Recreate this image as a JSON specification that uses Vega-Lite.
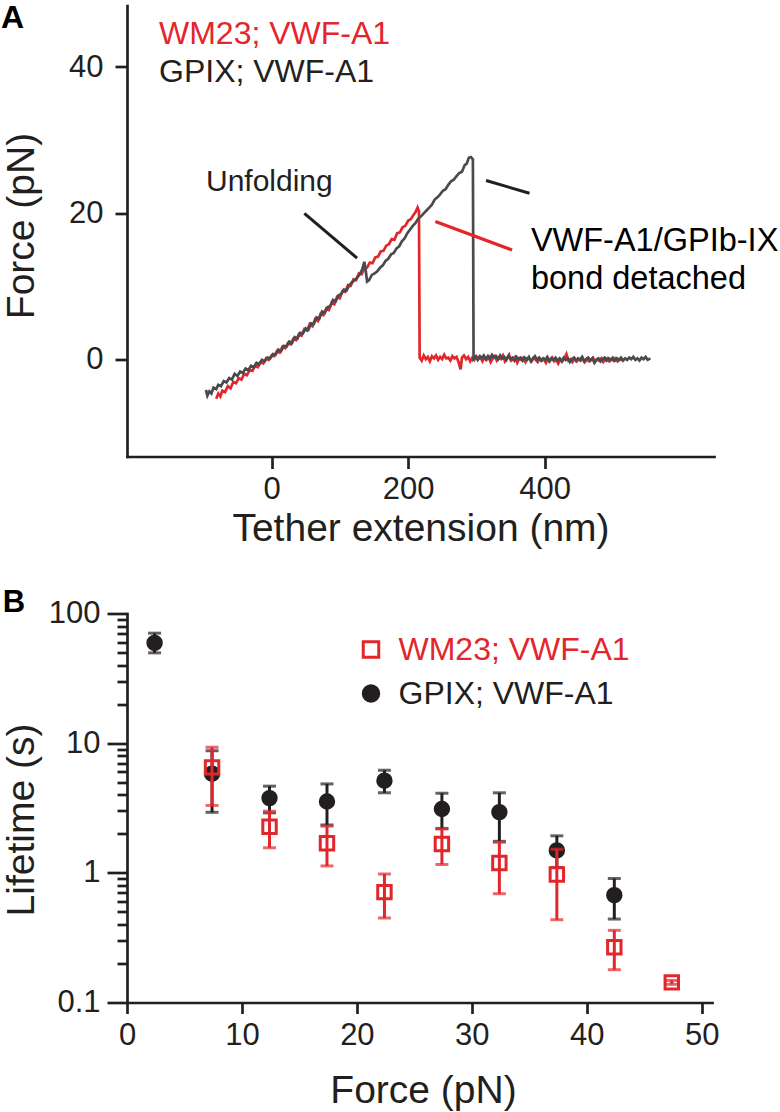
{
  "$schema": "https://vega.github.io/schema/vega-lite/v6.json",
  "background": "white",
  "padding": {"left": 0, "top": 1.5, "right": 0, "bottom": 0},
  "spacing": 38,
  "resolve": {
    "scale": {"color": "independent", "shape": "independent", "fill": "independent", "stroke": "independent"},
    "legend": {"color": "independent", "shape": "independent", "fill": "independent", "stroke": "independent"}
  },
  "config": {
    "font": "Liberation Sans",
    "view": {"stroke": null},
    "axis": {"grid": false, "domainColor": "#231f20", "tickColor": "#231f20", "labelColor": "#231f20", "titleColor": "#231f20", "domainWidth": 2.7, "tickWidth": 2.7, "domainCap": "square", "labelFont": "Liberation Sans", "titleFont": "Liberation Sans", "labelFontSize": 31, "titleFontSize": 39, "titleFontWeight": "normal", "labelFlush": false, "labelOverlap": false},
    "legend": {"labelFont": "Liberation Sans"}
  },
  "datasets": {
    "trace": [
      {"s":"WM23; VWF-A1","x":-81,"y":-5.3},{"s":"WM23; VWF-A1","x":-78,"y":-4.6},{"s":"WM23; VWF-A1","x":-75,"y":-5.0},{"s":"WM23; VWF-A1","x":-72,"y":-4.2},{"s":"WM23; VWF-A1","x":-68,"y":-4.4},{"s":"WM23; VWF-A1","x":-64,"y":-3.6},{"s":"WM23; VWF-A1","x":-60,"y":-3.9},{"s":"WM23; VWF-A1","x":-56,"y":-3.0},{"s":"WM23; VWF-A1","x":-52,"y":-3.2},{"s":"WM23; VWF-A1","x":-48,"y":-2.5},{"s":"WM23; VWF-A1","x":-44,"y":-2.7},{"s":"WM23; VWF-A1","x":-40,"y":-1.9},{"s":"WM23; VWF-A1","x":-36,"y":-2.1},{"s":"WM23; VWF-A1","x":-32,"y":-1.4},{"s":"WM23; VWF-A1","x":-28,"y":-1.5},{"s":"WM23; VWF-A1","x":-24,"y":-0.8},{"s":"WM23; VWF-A1","x":-20,"y":-1.0},{"s":"WM23; VWF-A1","x":-16,"y":-0.3},{"s":"WM23; VWF-A1","x":-12,"y":-0.5},{"s":"WM23; VWF-A1","x":-8,"y":0.2},{"s":"WM23; VWF-A1","x":-4,"y":0.0},{"s":"WM23; VWF-A1","x":0,"y":0.6},{"s":"WM23; VWF-A1","x":4,"y":0.5},{"s":"WM23; VWF-A1","x":8,"y":1.2},{"s":"WM23; VWF-A1","x":12,"y":1.0},{"s":"WM23; VWF-A1","x":16,"y":1.8},{"s":"WM23; VWF-A1","x":20,"y":1.6},{"s":"WM23; VWF-A1","x":24,"y":2.3},{"s":"WM23; VWF-A1","x":28,"y":2.1},{"s":"WM23; VWF-A1","x":32,"y":2.9},{"s":"WM23; VWF-A1","x":36,"y":2.7},{"s":"WM23; VWF-A1","x":40,"y":3.5},{"s":"WM23; VWF-A1","x":44,"y":3.3},{"s":"WM23; VWF-A1","x":48,"y":4.2},{"s":"WM23; VWF-A1","x":52,"y":4.0},{"s":"WM23; VWF-A1","x":56,"y":4.9},{"s":"WM23; VWF-A1","x":60,"y":4.6},{"s":"WM23; VWF-A1","x":64,"y":5.6},{"s":"WM23; VWF-A1","x":68,"y":5.3},{"s":"WM23; VWF-A1","x":72,"y":6.3},{"s":"WM23; VWF-A1","x":76,"y":6.1},{"s":"WM23; VWF-A1","x":80,"y":7.0},{"s":"WM23; VWF-A1","x":84,"y":6.8},{"s":"WM23; VWF-A1","x":88,"y":7.8},{"s":"WM23; VWF-A1","x":92,"y":7.6},{"s":"WM23; VWF-A1","x":96,"y":8.6},{"s":"WM23; VWF-A1","x":100,"y":8.4},{"s":"WM23; VWF-A1","x":104,"y":9.4},{"s":"WM23; VWF-A1","x":108,"y":9.3},{"s":"WM23; VWF-A1","x":112,"y":10.2},{"s":"WM23; VWF-A1","x":116,"y":10.1},{"s":"WM23; VWF-A1","x":120,"y":11.0},{"s":"WM23; VWF-A1","x":124,"y":10.9},{"s":"WM23; VWF-A1","x":128,"y":11.8},{"s":"WM23; VWF-A1","x":132,"y":11.7},{"s":"WM23; VWF-A1","x":136,"y":12.5},{"s":"WM23; VWF-A1","x":140,"y":12.6},{"s":"WM23; VWF-A1","x":144,"y":13.3},{"s":"WM23; VWF-A1","x":148,"y":13.2},{"s":"WM23; VWF-A1","x":152,"y":14.0},{"s":"WM23; VWF-A1","x":156,"y":14.1},{"s":"WM23; VWF-A1","x":160,"y":14.8},{"s":"WM23; VWF-A1","x":164,"y":14.9},{"s":"WM23; VWF-A1","x":168,"y":15.6},{"s":"WM23; VWF-A1","x":172,"y":15.8},{"s":"WM23; VWF-A1","x":176,"y":16.5},{"s":"WM23; VWF-A1","x":180,"y":16.4},{"s":"WM23; VWF-A1","x":184,"y":17.3},{"s":"WM23; VWF-A1","x":188,"y":17.4},{"s":"WM23; VWF-A1","x":192,"y":18.1},{"s":"WM23; VWF-A1","x":196,"y":18.3},{"s":"WM23; VWF-A1","x":200,"y":19.0},{"s":"WM23; VWF-A1","x":204,"y":19.2},{"s":"WM23; VWF-A1","x":208,"y":19.8},{"s":"WM23; VWF-A1","x":211,"y":20.2},{"s":"WM23; VWF-A1","x":214,"y":20.8},{"s":"WM23; VWF-A1","x":216,"y":20.3},{"s":"WM23; VWF-A1","x":217,"y":0.3},{"s":"WM23; VWF-A1","x":220,"y":-0.1},{"s":"WM23; VWF-A1","x":223,"y":0.6},{"s":"WM23; VWF-A1","x":226,"y":0.1},{"s":"WM23; VWF-A1","x":229,"y":0.4},{"s":"WM23; VWF-A1","x":232,"y":-0.2},{"s":"WM23; VWF-A1","x":235,"y":0.5},{"s":"WM23; VWF-A1","x":238,"y":0.2},{"s":"WM23; VWF-A1","x":241,"y":0.6},{"s":"WM23; VWF-A1","x":244,"y":0.0},{"s":"WM23; VWF-A1","x":247,"y":0.4},{"s":"WM23; VWF-A1","x":250,"y":0.1},{"s":"WM23; VWF-A1","x":253,"y":0.7},{"s":"WM23; VWF-A1","x":256,"y":0.2},{"s":"WM23; VWF-A1","x":259,"y":0.3},{"s":"WM23; VWF-A1","x":262,"y":-0.1},{"s":"WM23; VWF-A1","x":265,"y":0.5},{"s":"WM23; VWF-A1","x":268,"y":0.2},{"s":"WM23; VWF-A1","x":271,"y":0.4},{"s":"WM23; VWF-A1","x":274,"y":-0.3},{"s":"WM23; VWF-A1","x":277,"y":-1.3},{"s":"WM23; VWF-A1","x":279,"y":0.3},{"s":"WM23; VWF-A1","x":282,"y":0.6},{"s":"WM23; VWF-A1","x":285,"y":0.1},{"s":"WM23; VWF-A1","x":288,"y":0.4},{"s":"WM23; VWF-A1","x":291,"y":-0.2},{"s":"WM23; VWF-A1","x":294,"y":0.3},{"s":"WM23; VWF-A1","x":297,"y":0.0},{"s":"WM23; VWF-A1","x":300,"y":0.5},{"s":"WM23; VWF-A1","x":303,"y":0.1},{"s":"WM23; VWF-A1","x":306,"y":0.4},{"s":"WM23; VWF-A1","x":309,"y":-0.2},{"s":"WM23; VWF-A1","x":312,"y":0.3},{"s":"WM23; VWF-A1","x":315,"y":0.0},{"s":"WM23; VWF-A1","x":318,"y":0.4},{"s":"WM23; VWF-A1","x":321,"y":-0.3},{"s":"WM23; VWF-A1","x":324,"y":0.2},{"s":"WM23; VWF-A1","x":327,"y":0.5},{"s":"WM23; VWF-A1","x":330,"y":-0.1},{"s":"WM23; VWF-A1","x":333,"y":0.3},{"s":"WM23; VWF-A1","x":336,"y":0.1},{"s":"WM23; VWF-A1","x":339,"y":0.6},{"s":"WM23; VWF-A1","x":342,"y":-0.2},{"s":"WM23; VWF-A1","x":345,"y":0.2},{"s":"WM23; VWF-A1","x":348,"y":0.7},{"s":"WM23; VWF-A1","x":351,"y":-0.1},{"s":"WM23; VWF-A1","x":354,"y":0.1},{"s":"WM23; VWF-A1","x":357,"y":0.4},{"s":"WM23; VWF-A1","x":360,"y":-0.4},{"s":"WM23; VWF-A1","x":363,"y":0.2},{"s":"WM23; VWF-A1","x":366,"y":0.0},{"s":"WM23; VWF-A1","x":369,"y":0.3},{"s":"WM23; VWF-A1","x":372,"y":-0.3},{"s":"WM23; VWF-A1","x":375,"y":0.2},{"s":"WM23; VWF-A1","x":378,"y":0.1},{"s":"WM23; VWF-A1","x":381,"y":-0.2},{"s":"WM23; VWF-A1","x":384,"y":0.3},{"s":"WM23; VWF-A1","x":387,"y":0.0},{"s":"WM23; VWF-A1","x":390,"y":-0.3},{"s":"WM23; VWF-A1","x":393,"y":0.2},{"s":"WM23; VWF-A1","x":396,"y":-0.1},{"s":"WM23; VWF-A1","x":399,"y":0.1},{"s":"WM23; VWF-A1","x":402,"y":-0.4},{"s":"WM23; VWF-A1","x":405,"y":0.2},{"s":"WM23; VWF-A1","x":408,"y":-0.1},{"s":"WM23; VWF-A1","x":411,"y":0.3},{"s":"WM23; VWF-A1","x":414,"y":-0.2},{"s":"WM23; VWF-A1","x":417,"y":0.0},{"s":"WM23; VWF-A1","x":420,"y":-0.5},{"s":"WM23; VWF-A1","x":423,"y":0.1},{"s":"WM23; VWF-A1","x":426,"y":-0.2},{"s":"WM23; VWF-A1","x":429,"y":0.2},{"s":"WM23; VWF-A1","x":432,"y":0.8},{"s":"WM23; VWF-A1","x":435,"y":-0.1},{"s":"WM23; VWF-A1","x":438,"y":0.1},{"s":"WM23; VWF-A1","x":441,"y":-0.3},{"s":"WM23; VWF-A1","x":444,"y":0.2},{"s":"WM23; VWF-A1","x":447,"y":-0.2},{"s":"WM23; VWF-A1","x":450,"y":0.1},{"s":"WM23; VWF-A1","x":453,"y":-0.1},{"s":"WM23; VWF-A1","x":456,"y":0.2},{"s":"WM23; VWF-A1","x":459,"y":-0.3},{"s":"WM23; VWF-A1","x":462,"y":0.1},{"s":"WM23; VWF-A1","x":465,"y":-0.2},{"s":"WM23; VWF-A1","x":468,"y":0.0},{"s":"WM23; VWF-A1","x":471,"y":0.3},{"s":"WM23; VWF-A1","x":474,"y":-0.2},{"s":"WM23; VWF-A1","x":477,"y":0.1},{"s":"WM23; VWF-A1","x":480,"y":-0.1},{"s":"WM23; VWF-A1","x":483,"y":0.2},{"s":"WM23; VWF-A1","x":486,"y":-0.3},{"s":"WM23; VWF-A1","x":489,"y":0.0},{"s":"WM23; VWF-A1","x":492,"y":0.2},{"s":"WM23; VWF-A1","x":495,"y":-0.2},{"s":"WM23; VWF-A1","x":498,"y":0.1},{"s":"WM23; VWF-A1","x":501,"y":-0.1},{"s":"WM23; VWF-A1","x":504,"y":0.2},{"s":"WM23; VWF-A1","x":507,"y":-0.2},{"s":"WM23; VWF-A1","x":510,"y":0.1},{"s":"WM23; VWF-A1","x":513,"y":0.0},{"s":"WM23; VWF-A1","x":515,"y":0.2},
      {"s":"GPIX; VWF-A1","x":-96,"y":-4.1},{"s":"GPIX; VWF-A1","x":-94,"y":-4.9},{"s":"GPIX; VWF-A1","x":-91,"y":-4.3},{"s":"GPIX; VWF-A1","x":-88,"y":-4.6},{"s":"GPIX; VWF-A1","x":-85,"y":-3.8},{"s":"GPIX; VWF-A1","x":-81,"y":-4.0},{"s":"GPIX; VWF-A1","x":-78,"y":-3.4},{"s":"GPIX; VWF-A1","x":-74,"y":-3.6},{"s":"GPIX; VWF-A1","x":-70,"y":-2.9},{"s":"GPIX; VWF-A1","x":-66,"y":-3.1},{"s":"GPIX; VWF-A1","x":-62,"y":-2.5},{"s":"GPIX; VWF-A1","x":-58,"y":-2.7},{"s":"GPIX; VWF-A1","x":-54,"y":-1.9},{"s":"GPIX; VWF-A1","x":-50,"y":-2.2},{"s":"GPIX; VWF-A1","x":-46,"y":-1.6},{"s":"GPIX; VWF-A1","x":-42,"y":-1.8},{"s":"GPIX; VWF-A1","x":-38,"y":-1.2},{"s":"GPIX; VWF-A1","x":-34,"y":-1.4},{"s":"GPIX; VWF-A1","x":-30,"y":-0.8},{"s":"GPIX; VWF-A1","x":-26,"y":-1.0},{"s":"GPIX; VWF-A1","x":-22,"y":-0.4},{"s":"GPIX; VWF-A1","x":-18,"y":-0.6},{"s":"GPIX; VWF-A1","x":-14,"y":0.0},{"s":"GPIX; VWF-A1","x":-10,"y":-0.2},{"s":"GPIX; VWF-A1","x":-6,"y":0.3},{"s":"GPIX; VWF-A1","x":-2,"y":0.2},{"s":"GPIX; VWF-A1","x":2,"y":0.8},{"s":"GPIX; VWF-A1","x":6,"y":0.7},{"s":"GPIX; VWF-A1","x":10,"y":1.4},{"s":"GPIX; VWF-A1","x":14,"y":1.2},{"s":"GPIX; VWF-A1","x":18,"y":1.9},{"s":"GPIX; VWF-A1","x":22,"y":1.8},{"s":"GPIX; VWF-A1","x":26,"y":2.5},{"s":"GPIX; VWF-A1","x":30,"y":2.3},{"s":"GPIX; VWF-A1","x":34,"y":3.1},{"s":"GPIX; VWF-A1","x":38,"y":2.9},{"s":"GPIX; VWF-A1","x":42,"y":3.7},{"s":"GPIX; VWF-A1","x":46,"y":3.6},{"s":"GPIX; VWF-A1","x":50,"y":4.3},{"s":"GPIX; VWF-A1","x":54,"y":4.1},{"s":"GPIX; VWF-A1","x":58,"y":5.0},{"s":"GPIX; VWF-A1","x":62,"y":4.9},{"s":"GPIX; VWF-A1","x":66,"y":5.8},{"s":"GPIX; VWF-A1","x":70,"y":5.6},{"s":"GPIX; VWF-A1","x":74,"y":6.6},{"s":"GPIX; VWF-A1","x":78,"y":6.4},{"s":"GPIX; VWF-A1","x":82,"y":7.2},{"s":"GPIX; VWF-A1","x":86,"y":7.3},{"s":"GPIX; VWF-A1","x":90,"y":8.2},{"s":"GPIX; VWF-A1","x":94,"y":8.0},{"s":"GPIX; VWF-A1","x":98,"y":8.8},{"s":"GPIX; VWF-A1","x":102,"y":9.0},{"s":"GPIX; VWF-A1","x":106,"y":9.6},{"s":"GPIX; VWF-A1","x":110,"y":9.5},{"s":"GPIX; VWF-A1","x":114,"y":10.2},{"s":"GPIX; VWF-A1","x":118,"y":10.6},{"s":"GPIX; VWF-A1","x":122,"y":10.9},{"s":"GPIX; VWF-A1","x":126,"y":11.3},{"s":"GPIX; VWF-A1","x":130,"y":11.8},{"s":"GPIX; VWF-A1","x":133,"y":12.4},{"s":"GPIX; VWF-A1","x":136,"y":13.4},{"s":"GPIX; VWF-A1","x":138,"y":12.2},{"s":"GPIX; VWF-A1","x":140,"y":10.7},{"s":"GPIX; VWF-A1","x":143,"y":10.9},{"s":"GPIX; VWF-A1","x":147,"y":11.6},{"s":"GPIX; VWF-A1","x":151,"y":11.8},{"s":"GPIX; VWF-A1","x":155,"y":12.1},{"s":"GPIX; VWF-A1","x":159,"y":12.6},{"s":"GPIX; VWF-A1","x":163,"y":12.9},{"s":"GPIX; VWF-A1","x":167,"y":13.5},{"s":"GPIX; VWF-A1","x":171,"y":13.8},{"s":"GPIX; VWF-A1","x":175,"y":14.4},{"s":"GPIX; VWF-A1","x":179,"y":14.6},{"s":"GPIX; VWF-A1","x":183,"y":15.2},{"s":"GPIX; VWF-A1","x":187,"y":15.5},{"s":"GPIX; VWF-A1","x":191,"y":16.2},{"s":"GPIX; VWF-A1","x":195,"y":16.6},{"s":"GPIX; VWF-A1","x":199,"y":17.3},{"s":"GPIX; VWF-A1","x":203,"y":17.8},{"s":"GPIX; VWF-A1","x":207,"y":18.3},{"s":"GPIX; VWF-A1","x":211,"y":18.7},{"s":"GPIX; VWF-A1","x":215,"y":19.3},{"s":"GPIX; VWF-A1","x":219,"y":19.6},{"s":"GPIX; VWF-A1","x":223,"y":20.0},{"s":"GPIX; VWF-A1","x":227,"y":20.4},{"s":"GPIX; VWF-A1","x":231,"y":20.8},{"s":"GPIX; VWF-A1","x":235,"y":21.2},{"s":"GPIX; VWF-A1","x":239,"y":21.9},{"s":"GPIX; VWF-A1","x":243,"y":22.2},{"s":"GPIX; VWF-A1","x":247,"y":22.6},{"s":"GPIX; VWF-A1","x":251,"y":23.1},{"s":"GPIX; VWF-A1","x":255,"y":23.3},{"s":"GPIX; VWF-A1","x":259,"y":23.9},{"s":"GPIX; VWF-A1","x":263,"y":24.4},{"s":"GPIX; VWF-A1","x":267,"y":24.6},{"s":"GPIX; VWF-A1","x":271,"y":25.1},{"s":"GPIX; VWF-A1","x":275,"y":25.5},{"s":"GPIX; VWF-A1","x":279,"y":25.7},{"s":"GPIX; VWF-A1","x":283,"y":26.6},{"s":"GPIX; VWF-A1","x":286,"y":26.8},{"s":"GPIX; VWF-A1","x":289,"y":27.6},{"s":"GPIX; VWF-A1","x":292,"y":27.7},{"s":"GPIX; VWF-A1","x":295,"y":27.4},{"s":"GPIX; VWF-A1","x":296,"y":0.1},{"s":"GPIX; VWF-A1","x":299,"y":0.4},{"s":"GPIX; VWF-A1","x":302,"y":0.0},{"s":"GPIX; VWF-A1","x":305,"y":0.5},{"s":"GPIX; VWF-A1","x":308,"y":0.2},{"s":"GPIX; VWF-A1","x":311,"y":0.6},{"s":"GPIX; VWF-A1","x":314,"y":0.1},{"s":"GPIX; VWF-A1","x":317,"y":0.5},{"s":"GPIX; VWF-A1","x":320,"y":0.2},{"s":"GPIX; VWF-A1","x":323,"y":0.7},{"s":"GPIX; VWF-A1","x":326,"y":0.3},{"s":"GPIX; VWF-A1","x":329,"y":0.5},{"s":"GPIX; VWF-A1","x":332,"y":0.1},{"s":"GPIX; VWF-A1","x":335,"y":0.6},{"s":"GPIX; VWF-A1","x":338,"y":0.2},{"s":"GPIX; VWF-A1","x":341,"y":0.4},{"s":"GPIX; VWF-A1","x":344,"y":0.0},{"s":"GPIX; VWF-A1","x":347,"y":0.5},{"s":"GPIX; VWF-A1","x":350,"y":0.1},{"s":"GPIX; VWF-A1","x":353,"y":0.3},{"s":"GPIX; VWF-A1","x":356,"y":-0.1},{"s":"GPIX; VWF-A1","x":359,"y":0.4},{"s":"GPIX; VWF-A1","x":362,"y":0.1},{"s":"GPIX; VWF-A1","x":365,"y":0.3},{"s":"GPIX; VWF-A1","x":368,"y":-0.1},{"s":"GPIX; VWF-A1","x":371,"y":0.3},{"s":"GPIX; VWF-A1","x":374,"y":0.0},{"s":"GPIX; VWF-A1","x":377,"y":0.4},{"s":"GPIX; VWF-A1","x":380,"y":-0.2},{"s":"GPIX; VWF-A1","x":383,"y":0.2},{"s":"GPIX; VWF-A1","x":386,"y":0.5},{"s":"GPIX; VWF-A1","x":389,"y":0.0},{"s":"GPIX; VWF-A1","x":392,"y":0.3},{"s":"GPIX; VWF-A1","x":395,"y":-0.1},{"s":"GPIX; VWF-A1","x":398,"y":0.2},{"s":"GPIX; VWF-A1","x":401,"y":0.0},{"s":"GPIX; VWF-A1","x":404,"y":0.4},{"s":"GPIX; VWF-A1","x":407,"y":-0.2},{"s":"GPIX; VWF-A1","x":410,"y":0.2},{"s":"GPIX; VWF-A1","x":413,"y":0.0},{"s":"GPIX; VWF-A1","x":416,"y":0.3},{"s":"GPIX; VWF-A1","x":419,"y":-0.1},{"s":"GPIX; VWF-A1","x":422,"y":0.2},{"s":"GPIX; VWF-A1","x":425,"y":-0.2},{"s":"GPIX; VWF-A1","x":428,"y":0.3},{"s":"GPIX; VWF-A1","x":431,"y":0.0},{"s":"GPIX; VWF-A1","x":434,"y":0.2},{"s":"GPIX; VWF-A1","x":437,"y":-0.3},{"s":"GPIX; VWF-A1","x":440,"y":0.1},{"s":"GPIX; VWF-A1","x":443,"y":0.3},{"s":"GPIX; VWF-A1","x":446,"y":-0.1},{"s":"GPIX; VWF-A1","x":449,"y":0.2},{"s":"GPIX; VWF-A1","x":452,"y":0.0},{"s":"GPIX; VWF-A1","x":455,"y":0.4},{"s":"GPIX; VWF-A1","x":458,"y":-0.2},{"s":"GPIX; VWF-A1","x":461,"y":0.1},{"s":"GPIX; VWF-A1","x":464,"y":0.3},{"s":"GPIX; VWF-A1","x":467,"y":-0.1},{"s":"GPIX; VWF-A1","x":470,"y":0.2},{"s":"GPIX; VWF-A1","x":473,"y":-0.4},{"s":"GPIX; VWF-A1","x":476,"y":0.0},{"s":"GPIX; VWF-A1","x":479,"y":0.2},{"s":"GPIX; VWF-A1","x":482,"y":-0.2},{"s":"GPIX; VWF-A1","x":485,"y":0.1},{"s":"GPIX; VWF-A1","x":488,"y":0.3},{"s":"GPIX; VWF-A1","x":491,"y":-0.1},{"s":"GPIX; VWF-A1","x":494,"y":0.2},{"s":"GPIX; VWF-A1","x":497,"y":0.0},{"s":"GPIX; VWF-A1","x":500,"y":0.3},{"s":"GPIX; VWF-A1","x":503,"y":-0.1},{"s":"GPIX; VWF-A1","x":506,"y":0.2},{"s":"GPIX; VWF-A1","x":509,"y":0.0},{"s":"GPIX; VWF-A1","x":512,"y":0.3},{"s":"GPIX; VWF-A1","x":515,"y":-0.1},{"s":"GPIX; VWF-A1","x":518,"y":0.2},{"s":"GPIX; VWF-A1","x":521,"y":0.0},{"s":"GPIX; VWF-A1","x":524,"y":0.3},{"s":"GPIX; VWF-A1","x":527,"y":0.1},{"s":"GPIX; VWF-A1","x":530,"y":0.4},{"s":"GPIX; VWF-A1","x":533,"y":0.0},{"s":"GPIX; VWF-A1","x":536,"y":0.2},{"s":"GPIX; VWF-A1","x":539,"y":-0.1},{"s":"GPIX; VWF-A1","x":542,"y":0.3},{"s":"GPIX; VWF-A1","x":545,"y":0.1},{"s":"GPIX; VWF-A1","x":548,"y":0.4},{"s":"GPIX; VWF-A1","x":551,"y":0.0},{"s":"GPIX; VWF-A1","x":555,"y":0.2}
    ],
    "pointers": [
      {"c":"black","x":48.1,"y":20.0,"x2":125.3,"y2":13.9},
      {"c":"red","x":240,"y":18.9,"x2":352.4,"y2":15.0},
      {"c":"black","x":314.3,"y":24.5,"x2":377.9,"y2":22.75}
    ],
    "notes": [
      {"t":"Unfolding","x":-96,"y":23.1},
      {"t":"VWF-A1/GPIb-IX","x":380,"y":14.9},
      {"t":"bond detached","x":380,"y":9.7}
    ],
    "life": [
      {"s":"GPIX; VWF-A1","f":2.4,"t":59.3,"lo":49.7,"hi":70.5},
      {"s":"GPIX; VWF-A1","f":7.4,"t":5.82,"lo":2.93,"hi":8.74},
      {"s":"GPIX; VWF-A1","f":12.4,"t":3.77,"lo":2.9,"hi":4.66},
      {"s":"GPIX; VWF-A1","f":17.4,"t":3.55,"lo":2.34,"hi":4.85},
      {"s":"GPIX; VWF-A1","f":22.4,"t":5.14,"lo":4.14,"hi":6.19},
      {"s":"GPIX; VWF-A1","f":27.4,"t":3.11,"lo":2.2,"hi":4.11},
      {"s":"GPIX; VWF-A1","f":32.4,"t":2.94,"lo":1.75,"hi":4.14},
      {"s":"GPIX; VWF-A1","f":37.4,"t":1.49,"lo":1.1,"hi":1.93},
      {"s":"GPIX; VWF-A1","f":42.4,"t":0.673,"lo":0.44,"hi":0.904},
      {"s":"WM23; VWF-A1","f":7.4,"t":6.51,"lo":3.31,"hi":9.3},
      {"s":"WM23; VWF-A1","f":12.4,"t":2.27,"lo":1.56,"hi":2.99},
      {"s":"WM23; VWF-A1","f":17.4,"t":1.69,"lo":1.13,"hi":2.29},
      {"s":"WM23; VWF-A1","f":22.4,"t":0.71,"lo":0.448,"hi":0.98},
      {"s":"WM23; VWF-A1","f":27.4,"t":1.67,"lo":1.16,"hi":2.18},
      {"s":"WM23; VWF-A1","f":32.4,"t":1.19,"lo":0.69,"hi":1.72},
      {"s":"WM23; VWF-A1","f":37.4,"t":0.97,"lo":0.435,"hi":1.52},
      {"s":"WM23; VWF-A1","f":42.4,"t":0.267,"lo":0.179,"hi":0.36},
      {"s":"WM23; VWF-A1","f":47.4,"t":0.143,"lo":0.138,"hi":0.148}
    ]
  },
  "vconcat": [
    {
      "width": 587,
      "height": 451,
      "layer": [
        {
          "mark": {"type": "rule", "strokeDash": [9, 8], "strokeWidth": 2.7, "color": "#231f20"},
          "encoding": {
            "x": {"datum": -143, "type": "quantitative", "scale": {"domain": [-211.7, 648.2], "nice": false, "zero": false},
              "axis": {"values": [0, 200, 400], "tickSize": 12, "labelPadding": 6, "title": "Tether extension (nm)", "titleFontSize": 39, "titleBaseline": "alphabetic", "titleY": 84}},
            "x2": {"datum": 617},
            "y": {"datum": 0, "type": "quantitative", "scale": {"domain": [-13.2, 48.4], "nice": false, "zero": false},
              "axis": {"values": [0, 20, 40], "tickSize": 12, "labelPadding": 12, "title": "Force (pN)", "titleFontSize": 39, "titleBaseline": "alphabetic", "titleAlign": "center", "titleAngle": -90, "titleX": -94, "titleY": 220}}
          }
        },
        {
          "data": {"values": [{"tag": "A"}]},
          "mark": {"type": "text", "align": "left", "baseline": "alphabetic", "fontSize": 32, "fontWeight": "bold", "color": "#000000"},
          "encoding": {
            "x": {"datum": -396.3, "type": "quantitative"},
            "y": {"datum": 45.3, "type": "quantitative"},
            "text": {"field": "tag"}
          }
        },
        {
          "data": {"name": "trace"},
          "mark": {"type": "line", "strokeWidth": 2.7, "interpolate": "linear"},
          "encoding": {
            "x": {"field": "x", "type": "quantitative", "scale": {"domain": [-211.7, 648.2], "nice": false, "zero": false}},
            "y": {"field": "y", "type": "quantitative", "scale": {"domain": [-13.2, 48.4], "nice": false, "zero": false}},
            "color": {"field": "s", "type": "nominal", "scale": {"domain": ["WM23; VWF-A1", "GPIX; VWF-A1"], "range": ["#e3262c", "#4b4b4d"]},
              "legend": {"orient": "none", "legendX": 0, "legendY": 12, "title": null, "symbolSize": 0, "symbolOpacity": 0, "symbolStrokeWidth": 0, "labelOffset": 0, "labelFontSize": 32, "labelLimit": 400, "rowPadding": 6, "padding": 0,
                "labelColor": {"expr": "datum.label == 'WM23; VWF-A1' ? '#e3262c' : '#231f20'"}}}
          }
        },
        {
          "data": {"name": "pointers"},
          "transform": [{"filter": "datum.c == 'black'"}],
          "mark": {"type": "rule", "strokeWidth": 3, "color": "#231f20"},
          "encoding": {
            "x": {"field": "x", "type": "quantitative"},
            "y": {"field": "y", "type": "quantitative"},
            "x2": {"field": "x2"},
            "y2": {"field": "y2"}
          }
        },
        {
          "data": {"name": "pointers"},
          "transform": [{"filter": "datum.c == 'red'"}],
          "mark": {"type": "rule", "strokeWidth": 3.3, "color": "#e3262c"},
          "encoding": {
            "x": {"field": "x", "type": "quantitative"},
            "y": {"field": "y", "type": "quantitative"},
            "x2": {"field": "x2"},
            "y2": {"field": "y2"}
          }
        },
        {
          "data": {"name": "notes"},
          "transform": [{"filter": "datum.t == 'Unfolding'"}],
          "mark": {"type": "text", "align": "left", "baseline": "alphabetic", "fontSize": 30, "color": "#231f20"},
          "encoding": {
            "x": {"field": "x", "type": "quantitative"},
            "y": {"field": "y", "type": "quantitative"},
            "text": {"field": "t"}
          }
        },
        {
          "data": {"name": "notes"},
          "transform": [{"filter": "datum.t != 'Unfolding'"}],
          "mark": {"type": "text", "align": "left", "baseline": "alphabetic", "fontSize": 32.5, "color": "#000000"},
          "encoding": {
            "x": {"field": "x", "type": "quantitative"},
            "y": {"field": "y", "type": "quantitative"},
            "text": {"field": "t"}
          }
        }
      ]
    },
    {
      "width": 585,
      "height": 389,
      "data": {"name": "life"},
      "layer": [
        {
          "transform": [{"filter": "datum.s == 'GPIX; VWF-A1'"}],
          "mark": {"type": "rule", "strokeWidth": 3, "color": "#231f20"},
          "encoding": {
            "x": {"field": "f", "type": "quantitative", "scale": {"domain": [0, 50.9], "nice": false, "zero": false},
              "axis": {"values": [0, 10, 20, 30, 40, 50], "tickSize": 11, "labelPadding": 7, "title": "Force (pN)", "titleFontSize": 39, "titleBaseline": "alphabetic", "titleAlign": "center", "titleX": 296, "titleY": 100}},
            "y": {"field": "lo", "type": "quantitative", "scale": {"type": "log", "domain": [0.1, 100], "nice": false},
              "axis": {"values": [0.1, 0.2, 0.3, 0.4, 0.5, 0.6, 0.7, 0.8, 0.9, 1, 2, 3, 4, 5, 6, 7, 8, 9, 10, 20, 30, 40, 50, 60, 70, 80, 90, 100],
                "labelExpr": "datum.value == 0.1 ? '0.1' : datum.value == 1 ? '1' : datum.value == 10 ? '10' : datum.value == 100 ? '100' : ''",
                "tickSize": {"condition": {"test": "datum.value == 0.1 || datum.value == 1 || datum.value == 10 || datum.value == 100", "value": 20}, "value": 10},
                "labelPadding": 7, "title": "Lifetime (s)", "titleFontSize": 39, "titleBaseline": "alphabetic", "titleAlign": "center", "titleAngle": -90, "titleX": -94, "titleY": 206}},
            "y2": {"field": "hi"}
          }
        },
        {
          "data": {"values": [{"tag": "B"}]},
          "mark": {"type": "text", "align": "left", "baseline": "alphabetic", "fontSize": 31, "fontWeight": "bold", "color": "#000000"},
          "encoding": {
            "x": {"datum": -10.8, "type": "quantitative"},
            "y": {"datum": 103.6, "type": "quantitative"},
            "text": {"field": "tag"}
          }
        },
        {
          "transform": [{"filter": "datum.s == 'GPIX; VWF-A1'"}, {"fold": ["lo", "hi"], "as": ["k", "v"]}],
          "mark": {"type": "tick", "orient": "horizontal", "size": 13, "thickness": 3, "color": "#231f20"},
          "encoding": {
            "x": {"field": "f", "type": "quantitative"},
            "y": {"field": "v", "type": "quantitative"}
          }
        },
        {
          "mark": {"type": "point", "size": 180, "strokeWidth": 3, "opacity": 1},
          "encoding": {
            "x": {"field": "f", "type": "quantitative"},
            "y": {"field": "t", "type": "quantitative"},
            "shape": {"field": "s", "type": "nominal", "scale": {"domain": ["WM23; VWF-A1", "GPIX; VWF-A1"], "range": ["square", "circle"]},
              "legend": {"orient": "none", "legendX": 228, "legendY": 20, "title": null, "symbolSize": 240, "symbolStrokeWidth": 3, "labelOffset": 11.5, "labelFontSize": 32, "labelLimit": 400, "rowPadding": 12, "padding": 0,
                "labelColor": {"expr": "datum.label == 'WM23; VWF-A1' ? '#e3262c' : '#231f20'"}}},
            "fill": {"field": "s", "type": "nominal", "scale": {"domain": ["WM23; VWF-A1", "GPIX; VWF-A1"], "range": ["transparent", "#231f20"]}},
            "stroke": {"field": "s", "type": "nominal", "scale": {"domain": ["WM23; VWF-A1", "GPIX; VWF-A1"], "range": ["#e3262c", "#231f20"]}}
          }
        },
        {
          "transform": [{"filter": "datum.s == 'WM23; VWF-A1'"}],
          "mark": {"type": "rule", "strokeWidth": 3, "color": "#e3262c"},
          "encoding": {
            "x": {"field": "f", "type": "quantitative"},
            "y": {"field": "lo", "type": "quantitative"},
            "y2": {"field": "hi"}
          }
        },
        {
          "transform": [{"filter": "datum.s == 'WM23; VWF-A1'"}, {"fold": ["lo", "hi"], "as": ["k", "v"]}],
          "mark": {"type": "tick", "orient": "horizontal", "size": 13, "thickness": 3, "color": "#e3262c"},
          "encoding": {
            "x": {"field": "f", "type": "quantitative"},
            "y": {"field": "v", "type": "quantitative"}
          }
        }
      ]
    }
  ]
}
